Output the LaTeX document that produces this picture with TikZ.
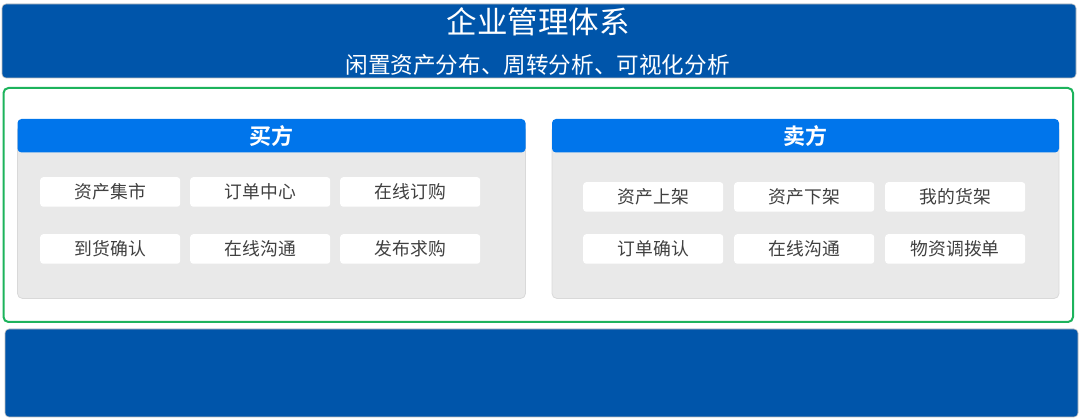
\documentclass[tikz,border=0pt]{standalone}
\usepackage{fontspec}
\setmainfont{Noto Sans CJK SC}[BoldFont={Noto Sans CJK SC Bold}]
\newfontfamily\cjk{Noto Sans CJK SC}[BoldFont={Noto Sans CJK SC Bold}]
\definecolor{navy}{HTML}{0055AA}
\definecolor{hdr}{HTML}{0075EB}
\definecolor{frameg}{HTML}{1DB35C}
\definecolor{panelg}{HTML}{E9E9E9}
\definecolor{itemtxt}{HTML}{404040}
\begin{document}
\begin{tikzpicture}[x=1pt,y=-1pt,
  banner/.style={fill=navy,draw=black!25,line width=0.6pt,rounded corners=4pt},
  panelbox/.style={fill=panelg,draw=black!15,line width=0.8pt,rounded corners=5pt},
  hdrbox/.style={fill=hdr,rounded corners=4pt},
  itembox/.style={fill=white,rounded corners=3pt,minimum width=140pt,minimum height=29.5pt,inner sep=0pt,
     font=\cjk\fontsize{17.8}{19}\selectfont,text=itemtxt,anchor=north west},
  hdrtxt/.style={text=white,font=\cjk\bfseries\fontsize{22}{24}\selectfont}]
\useasboundingbox (0,0) rectangle (1080,419);
% top banner
\draw[banner] (2,4) rectangle (1076,78);
\node[text=white,font=\cjk\fontsize{30.5}{33}\selectfont] (title) at (538,21.5) {企业管理体系};
\node[text=white,font=\cjk\fontsize{22.6}{25}\selectfont] (sub) at (537.5,65) {闲置资产分布、周转分析、可视化分析};
% green frame
\draw[frameg,line width=2pt,rounded corners=5pt] (3.5,88) rectangle (1073,322);
% buyer panel
\draw[panelbox] (17.5,125) rectangle (525.5,298.5);
\fill[hdrbox] (17.5,119) rectangle (525.5,152.5);
\node[hdrtxt] (buyer) at (271.5,136.5) {买方};
% seller panel
\draw[panelbox] (552,125) rectangle (1059,298.5);
\fill[hdrbox] (552,119) rectangle (1059,152.5);
\node[hdrtxt] (seller) at (805.5,136.5) {卖方};
% buyer items
\node[itembox] (b1) at (40,177) {资产集市};
\node[itembox] (b2) at (190,177) {订单中心};
\node[itembox] (b3) at (340,177) {在线订购};
\node[itembox] (b4) at (40,234) {到货确认};
\node[itembox] (b5) at (190,234) {在线沟通};
\node[itembox] (b6) at (340,234) {发布求购};
% seller items
\node[itembox] (s1) at (583,182) {资产上架};
\node[itembox] (s2) at (734,182) {资产下架};
\node[itembox] (s3) at (885,182) {我的货架};
\node[itembox] (s4) at (583,234) {订单确认};
\node[itembox] (s5) at (734,234) {在线沟通};
\node[itembox] (s6) at (885,234) {物资调拨单};
% bottom banner
\draw[banner] (5,329) rectangle (1078,417);
\end{tikzpicture}
\end{document}
